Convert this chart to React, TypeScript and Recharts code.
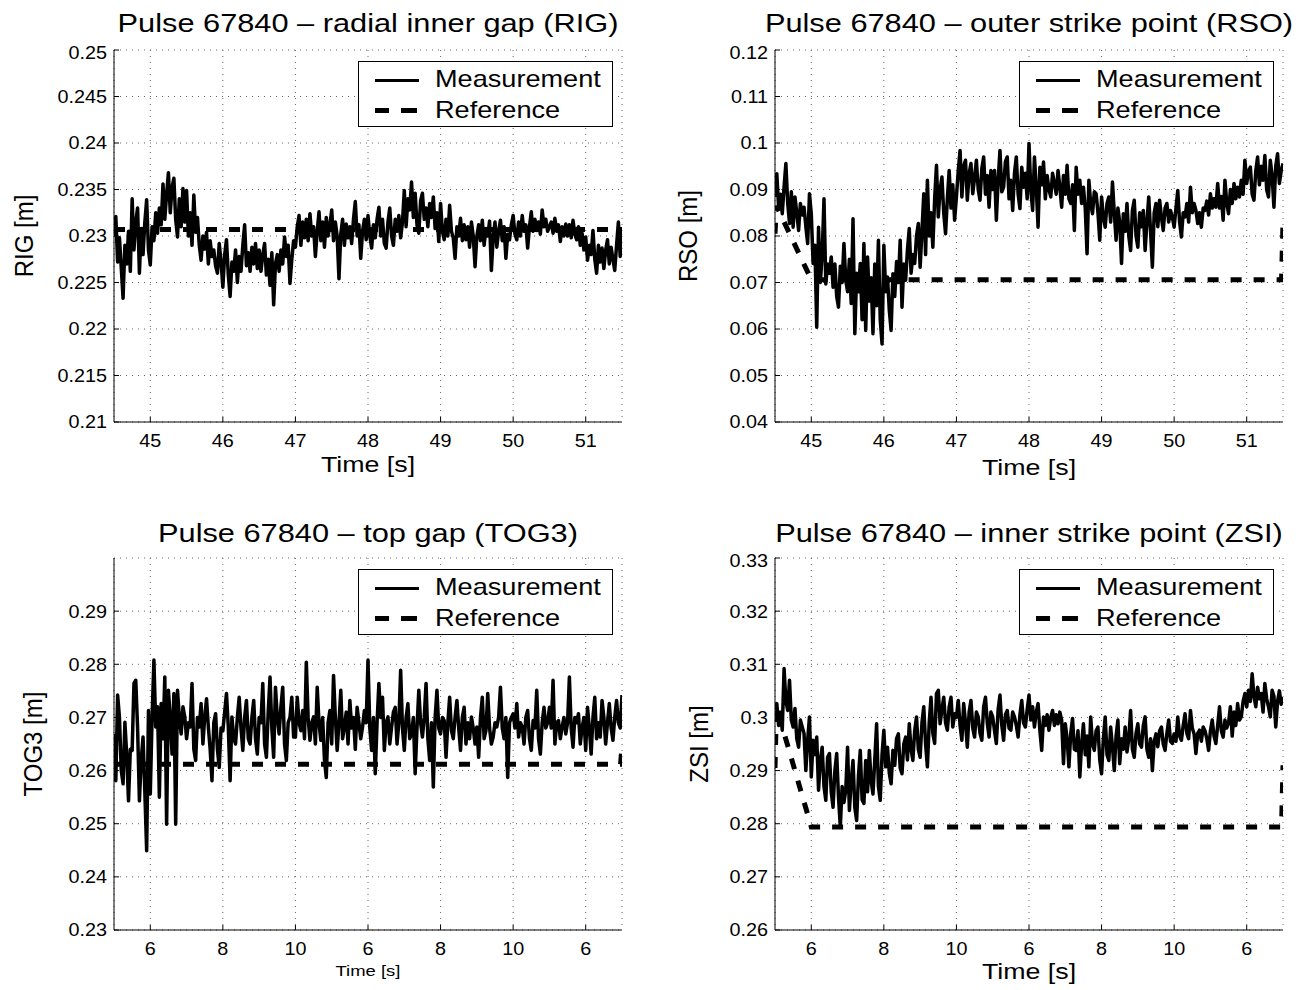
import React from 'react';
import { LineChart, Line, XAxis, YAxis, CartesianGrid } from 'recharts';

const FONT = '"Liberation Sans", Arial, Helvetica, sans-serif';

// ---------- ticks & labels ----------
const TIME_TICKS = [45, 46, 47, 48, 49, 50, 51];
const TOP_XLABELS = ['45', '46', '47', '48', '49', '50', '51'];
const BOTTOM_XLABELS = ['6', '8', '10', '6', '8', '10', '6'];
const RIG_YTICKS = [0.21, 0.215, 0.22, 0.225, 0.23, 0.235, 0.24, 0.245, 0.25];
const RSO_YTICKS = [0.04, 0.05, 0.06, 0.07, 0.08, 0.09, 0.1, 0.11, 0.12];
const TOG3_YTICKS = [0.23, 0.24, 0.25, 0.26, 0.27, 0.28, 0.29];
const ZSI_YTICKS = [0.26, 0.27, 0.28, 0.29, 0.3, 0.31, 0.32, 0.33];

// ---------- sampled measurements: start time, sample step (s), values ----------
const T_START = 44.5;
const T_STEP = 0.025;

const RIG_MEAS = [
  0.2300, 0.2321, 0.2272, 0.2298, 0.2266, 0.2233, 0.2290, 0.2270, 0.2305, 0.2262,
  0.2340, 0.2285, 0.2315, 0.2330, 0.2260, 0.2308, 0.2280, 0.2315, 0.2339, 0.2285,
  0.2269, 0.2310, 0.2295, 0.2325, 0.2303, 0.2330, 0.2312, 0.2356, 0.2318, 0.2345,
  0.2368, 0.2325, 0.2352, 0.2362, 0.2318, 0.2299, 0.2340, 0.2310, 0.2351, 0.2315,
  0.2349, 0.2300, 0.2325, 0.2290, 0.2344, 0.2304, 0.2320, 0.2290, 0.2274, 0.2300,
  0.2286, 0.2304, 0.2270, 0.2295, 0.2278, 0.2285, 0.2268, 0.2260, 0.2292, 0.2272,
  0.2245, 0.2280, 0.2296, 0.2258, 0.2235, 0.2272, 0.2262, 0.2285, 0.2250, 0.2278,
  0.2262, 0.2290, 0.2312, 0.2268, 0.2282, 0.2262, 0.2288, 0.2270, 0.2292, 0.2265,
  0.2285, 0.2262, 0.2280, 0.2292, 0.2258, 0.2275, 0.2247, 0.2282, 0.2226, 0.2270,
  0.2280, 0.2262, 0.2285, 0.2270, 0.2299, 0.2278, 0.2290, 0.2249, 0.2275, 0.2295,
  0.2288, 0.2310, 0.2322, 0.2290, 0.2315, 0.2298, 0.2318, 0.2295, 0.2324, 0.2300,
  0.2310, 0.2278, 0.2305, 0.2326, 0.2295, 0.2315, 0.2288, 0.2320, 0.2300, 0.2312,
  0.2328, 0.2295, 0.2315, 0.2300, 0.2254, 0.2302, 0.2318, 0.2290, 0.2313, 0.2298,
  0.2310, 0.2292, 0.2318, 0.2337, 0.2300, 0.2312, 0.2276, 0.2305, 0.2318, 0.2296,
  0.2322, 0.2300, 0.2287, 0.2312, 0.2298, 0.2318, 0.2331, 0.2300, 0.2318, 0.2292,
  0.2287, 0.2315, 0.2330, 0.2300, 0.2290, 0.2318, 0.2305, 0.2322, 0.2298, 0.2315,
  0.2349, 0.2310, 0.2340, 0.2328, 0.2358, 0.2320, 0.2346, 0.2312, 0.2303, 0.2338,
  0.2346, 0.2318, 0.2330, 0.2310, 0.2335, 0.2320, 0.2342, 0.2308, 0.2325, 0.2294,
  0.2335, 0.2305, 0.2296, 0.2318, 0.2300, 0.2333, 0.2305, 0.2298, 0.2276, 0.2310,
  0.2300, 0.2319, 0.2295, 0.2312, 0.2296, 0.2310, 0.2288, 0.2315, 0.2300, 0.2267,
  0.2300, 0.2312, 0.2295, 0.2317, 0.2290, 0.2308, 0.2300, 0.2316, 0.2263, 0.2298,
  0.2315, 0.2288, 0.2305, 0.2317, 0.2295, 0.2310, 0.2276, 0.2302, 0.2296, 0.2312,
  0.2322, 0.2302, 0.2296, 0.2315, 0.2300, 0.2322, 0.2305, 0.2312, 0.2287, 0.2310,
  0.2326, 0.2305, 0.2318, 0.2306, 0.2315, 0.2302, 0.2328, 0.2310, 0.2318, 0.2305,
  0.2310, 0.2315, 0.2303, 0.2319, 0.2305, 0.2312, 0.2294, 0.2310, 0.2300, 0.2313,
  0.2300, 0.2312, 0.2298, 0.2317, 0.2302, 0.2296, 0.2310, 0.2290, 0.2303, 0.2285,
  0.2299, 0.2274, 0.2290, 0.2280, 0.2306, 0.2275, 0.2260, 0.2290, 0.2272, 0.2287,
  0.2265, 0.2285, 0.2296, 0.2270, 0.2288, 0.2275, 0.2263, 0.2290, 0.2315, 0.2278,
  0.2306,
];
const RIG_REF: [number, number][] = [[44.5, 0.2307], [51.5, 0.2307]];

const RSO_MEAS = [
  0.0884, 0.0934, 0.0860, 0.0890, 0.0848, 0.0905, 0.0956, 0.0870, 0.0827, 0.0895,
  0.0819, 0.0884, 0.0850, 0.0812, 0.0870, 0.0845, 0.0862, 0.0820, 0.0784, 0.0891,
  0.0848, 0.0741, 0.0780, 0.0604, 0.0819, 0.0700, 0.0760, 0.0880, 0.0697, 0.0740,
  0.0720, 0.0755, 0.0690, 0.0740, 0.0670, 0.0647, 0.0735, 0.0700, 0.0784, 0.0705,
  0.0680, 0.0750, 0.0655, 0.0837, 0.0590, 0.0720, 0.0680, 0.0741, 0.0620, 0.0784,
  0.0597, 0.0755, 0.0660, 0.0710, 0.0590, 0.0740, 0.0650, 0.0791, 0.0620, 0.0568,
  0.0780, 0.0680, 0.0712, 0.0640, 0.0597, 0.0719, 0.0670, 0.0745, 0.0700, 0.0791,
  0.0647, 0.0740, 0.0705, 0.0770, 0.0816, 0.0720, 0.0760, 0.0741, 0.0800, 0.0827,
  0.0733, 0.0810, 0.0891, 0.0760, 0.0920, 0.0800, 0.0850, 0.0776, 0.0880, 0.0952,
  0.0841, 0.0900, 0.0927, 0.0850, 0.0805, 0.0880, 0.0941, 0.0860, 0.0910, 0.0834,
  0.0884, 0.0940, 0.0984, 0.0884, 0.0950, 0.0963, 0.0877, 0.0935, 0.0956, 0.0891,
  0.0925, 0.0963, 0.0900, 0.0877, 0.0945, 0.0970, 0.0890, 0.0930, 0.0862, 0.0941,
  0.0900, 0.0941, 0.0834, 0.0920, 0.0984, 0.0895, 0.0905, 0.0960, 0.0970, 0.0880,
  0.0920, 0.0855, 0.0935, 0.0970, 0.0890, 0.0859, 0.0948, 0.0905, 0.0935, 0.0880,
  0.0999, 0.0900, 0.0855, 0.0970, 0.0905, 0.0819, 0.0948, 0.0910, 0.0959, 0.0880,
  0.0930, 0.0900, 0.0884, 0.0935, 0.0913, 0.0890, 0.0941, 0.0905, 0.0862, 0.0930,
  0.0890, 0.0952, 0.0880, 0.0870, 0.0910, 0.0812, 0.0948, 0.0890, 0.0920, 0.0870,
  0.0905, 0.0860, 0.0762, 0.0920, 0.0870, 0.0848, 0.0895, 0.0891, 0.0850, 0.0791,
  0.0884, 0.0840, 0.0819, 0.0870, 0.0884, 0.0830, 0.0916, 0.0850, 0.0791, 0.0860,
  0.0830, 0.0741, 0.0848, 0.0810, 0.0870, 0.0800, 0.0769, 0.0855, 0.0877, 0.0800,
  0.0776, 0.0850, 0.0820, 0.0855, 0.0769, 0.0830, 0.0884, 0.0810, 0.0733, 0.0850,
  0.0870, 0.0820, 0.0877, 0.0840, 0.0812, 0.0860, 0.0870, 0.0830, 0.0855, 0.0841,
  0.0819, 0.0860, 0.0898, 0.0830, 0.0798, 0.0850, 0.0841, 0.0870, 0.0830, 0.0905,
  0.0850, 0.0870, 0.0855, 0.0827, 0.0850, 0.0819, 0.0860, 0.0855, 0.0875, 0.0845,
  0.0891, 0.0860, 0.0880, 0.0862, 0.0913, 0.0860, 0.0885, 0.0834, 0.0920, 0.0870,
  0.0848, 0.0900, 0.0870, 0.0913, 0.0880, 0.0905, 0.0884, 0.0920, 0.0890, 0.0963,
  0.0913, 0.0940, 0.0948, 0.0890, 0.0877, 0.0940, 0.0970, 0.0910, 0.0950, 0.0920,
  0.0973, 0.0900, 0.0884, 0.0963, 0.0930, 0.0862, 0.0950, 0.0977, 0.0913, 0.0940,
  0.0956,
];
const RSO_REF: [number, number][] = [[44.5, 0.0805], [44.52, 0.0865], [45.0, 0.0706], [51.48, 0.0706], [51.5, 0.0830]];

const TOG3_MEAS = [
  0.2669, 0.2581, 0.2742, 0.2700, 0.2600, 0.2575, 0.2691, 0.2630, 0.2543, 0.2640,
  0.2638, 0.2764, 0.2770, 0.2680, 0.2543, 0.2620, 0.2663, 0.2560, 0.2449, 0.2713,
  0.2556, 0.2700, 0.2808, 0.2682, 0.2720, 0.2550, 0.2726, 0.2660, 0.2776, 0.2499,
  0.2751, 0.2700, 0.2631, 0.2745, 0.2499, 0.2751, 0.2700, 0.2669, 0.2720, 0.2701,
  0.2660, 0.2690, 0.2682, 0.2764, 0.2640, 0.2619, 0.2700, 0.2682, 0.2726, 0.2650,
  0.2700, 0.2735, 0.2682, 0.2640, 0.2581, 0.2690, 0.2707, 0.2640, 0.2606, 0.2680,
  0.2675, 0.2710, 0.2745, 0.2682, 0.2581, 0.2701, 0.2660, 0.2650, 0.2700, 0.2738,
  0.2680, 0.2638, 0.2700, 0.2732, 0.2660, 0.2650, 0.2700, 0.2732, 0.2660, 0.2631,
  0.2700, 0.2690, 0.2764, 0.2650, 0.2625, 0.2710, 0.2776, 0.2680, 0.2625, 0.2757,
  0.2700, 0.2669, 0.2720, 0.2757, 0.2650, 0.2619, 0.2690, 0.2700, 0.2738, 0.2663,
  0.2663, 0.2738, 0.2690, 0.2675, 0.2713, 0.2660, 0.2804, 0.2700, 0.2657, 0.2690,
  0.2701, 0.2650, 0.2757, 0.2690, 0.2657, 0.2700, 0.2620, 0.2587, 0.2690, 0.2713,
  0.2650, 0.2779, 0.2700, 0.2638, 0.2690, 0.2751, 0.2660, 0.2682, 0.2710, 0.2650,
  0.2732, 0.2680, 0.2700, 0.2640, 0.2719, 0.2690, 0.2660, 0.2682, 0.2713, 0.2690,
  0.2808, 0.2680, 0.2638, 0.2700, 0.2594, 0.2690, 0.2764, 0.2700, 0.2738, 0.2638,
  0.2690, 0.2701, 0.2650, 0.2682, 0.2710, 0.2719, 0.2650, 0.2690, 0.2789, 0.2680,
  0.2638, 0.2700, 0.2726, 0.2660, 0.2669, 0.2700, 0.2594, 0.2680, 0.2751, 0.2690,
  0.2663, 0.2700, 0.2764, 0.2660, 0.2619, 0.2690, 0.2569, 0.2700, 0.2751, 0.2680,
  0.2669, 0.2700, 0.2694, 0.2625, 0.2690, 0.2738, 0.2675, 0.2660, 0.2700, 0.2732,
  0.2680, 0.2638, 0.2700, 0.2719, 0.2650, 0.2690, 0.2660, 0.2701, 0.2680, 0.2650,
  0.2682, 0.2625, 0.2700, 0.2738, 0.2660, 0.2675, 0.2745, 0.2680, 0.2650, 0.2663,
  0.2690, 0.2682, 0.2700, 0.2757, 0.2680, 0.2660, 0.2700, 0.2587, 0.2690, 0.2700,
  0.2707, 0.2680, 0.2726, 0.2663, 0.2690, 0.2682, 0.2650, 0.2700, 0.2713, 0.2660,
  0.2638, 0.2694, 0.2680, 0.2751, 0.2660, 0.2631, 0.2690, 0.2719, 0.2680, 0.2690,
  0.2719, 0.2680, 0.2770, 0.2650, 0.2690, 0.2694, 0.2660, 0.2682, 0.2700, 0.2669,
  0.2690, 0.2776, 0.2680, 0.2644, 0.2700, 0.2690, 0.2707, 0.2650, 0.2680, 0.2700,
  0.2638, 0.2719, 0.2680, 0.2631, 0.2700, 0.2738, 0.2660, 0.2690, 0.2663, 0.2732,
  0.2700, 0.2650, 0.2690, 0.2726, 0.2680, 0.2657, 0.2700, 0.2732, 0.2690, 0.2680,
  0.2742,
];
const TOG3_REF: [number, number][] = [[44.5, 0.2612], [51.48, 0.2612], [51.5, 0.2645]];

const ZSI_MEAS = [
  0.3013, 0.3026, 0.2985, 0.3010, 0.2976, 0.3092, 0.3030, 0.3013, 0.3070, 0.2995,
  0.2982, 0.3017, 0.2960, 0.2944, 0.2995, 0.2982, 0.2970, 0.2900, 0.2957, 0.3001,
  0.2888, 0.2957, 0.2930, 0.2963, 0.2863, 0.2920, 0.2944, 0.2870, 0.2844, 0.2925,
  0.2932, 0.2860, 0.2831, 0.2900, 0.2932, 0.2850, 0.2794, 0.2870, 0.2840, 0.2863,
  0.2944, 0.2825, 0.2880, 0.2919, 0.2830, 0.2806, 0.2890, 0.2938, 0.2845, 0.2838,
  0.2919, 0.2860, 0.2938, 0.2880, 0.2856, 0.2920, 0.2988, 0.2870, 0.2844, 0.2930,
  0.2976, 0.2907, 0.2944, 0.2895, 0.2875, 0.2938, 0.2910, 0.2960, 0.2969, 0.2905,
  0.2894, 0.2950, 0.2963, 0.2920, 0.2988, 0.2940, 0.2919, 0.2975, 0.3001, 0.2940,
  0.2925, 0.2990, 0.3020, 0.2950, 0.2907, 0.2990, 0.3038, 0.2970, 0.2951, 0.3045,
  0.3051, 0.2988, 0.3015, 0.3038, 0.2990, 0.2976, 0.3020, 0.3038, 0.2982, 0.3007,
  0.3000, 0.3032, 0.2985, 0.2957, 0.3026, 0.2990, 0.2944, 0.3010, 0.3032, 0.2980,
  0.2963, 0.3010, 0.3001, 0.2970, 0.2957, 0.3020, 0.3038, 0.2990, 0.2963, 0.3010,
  0.3001, 0.2975, 0.2951, 0.3015, 0.3042, 0.2985, 0.2957, 0.3005, 0.3013, 0.2980,
  0.2976, 0.3010, 0.3001, 0.2985, 0.2963, 0.3005, 0.3032, 0.2990, 0.2982, 0.3015,
  0.3042, 0.2995, 0.3020, 0.2982, 0.3010, 0.3026, 0.2975, 0.2938, 0.3001, 0.2985,
  0.3005, 0.2976, 0.3000, 0.3013, 0.2985, 0.3005, 0.2988, 0.3010, 0.2995, 0.2913,
  0.2988, 0.2960, 0.2907, 0.2970, 0.2998, 0.2940, 0.2938, 0.2975, 0.2888, 0.2950,
  0.2988, 0.2930, 0.2965, 0.2907, 0.3001, 0.2950, 0.2938, 0.2975, 0.2982, 0.2920,
  0.2894, 0.2960, 0.3001, 0.2930, 0.2919, 0.2982, 0.2945, 0.2900, 0.2965, 0.2995,
  0.2913, 0.2960, 0.2940, 0.2982, 0.2935, 0.2960, 0.3013, 0.2940, 0.2925, 0.2970,
  0.2988, 0.2950, 0.2944, 0.2985, 0.3001, 0.2940, 0.2925, 0.2960, 0.2900, 0.2955,
  0.2969, 0.2945, 0.2975, 0.2982, 0.2950, 0.2938, 0.2970, 0.2995, 0.2955, 0.2951,
  0.2969, 0.2955, 0.3001, 0.2965, 0.2957, 0.2985, 0.3007, 0.2970, 0.2960, 0.3013,
  0.2980, 0.2969, 0.2932, 0.2970, 0.2976, 0.2955, 0.2982, 0.2975, 0.2960, 0.2938,
  0.2975, 0.2995, 0.2965, 0.2951, 0.2985, 0.3020, 0.2975, 0.2963, 0.2995, 0.2980,
  0.2990, 0.3020, 0.2965, 0.3010, 0.2985, 0.3026, 0.2995, 0.3001, 0.3030, 0.3045,
  0.3020, 0.3051, 0.3030, 0.3082, 0.3040, 0.3020, 0.3057, 0.3035, 0.3045, 0.3010,
  0.3064, 0.3035, 0.3020, 0.3001, 0.3051, 0.3040, 0.2982, 0.3030, 0.3050, 0.3025,
  0.3038,
];
const ZSI_REF: [number, number][] = [[44.5, 0.2905], [44.52, 0.3020], [45.0, 0.2794], [51.48, 0.2794], [51.5, 0.2910]];

// ---------- geometry ----------
const PW = 508;
const PH = 372;
const ML = 72;
const MT = 6;
const MR = 6;
const MB = 40;

const TICK_FS = 18;
const TICK_SX = 1.1;

function XTick(props: any) {
  const { x, y, payload, labels } = props;
  const idx = TIME_TICKS.indexOf(payload.value);
  const label = idx >= 0 ? labels[idx] : String(payload.value);
  return (
    <text
      transform={`translate(${x},${y}) scale(${TICK_SX},1)`}
      x={0}
      y={0}
      dy="0.71em"
      textAnchor="middle"
      fontSize={TICK_FS}
      fontFamily={FONT}
      fill="#000"
    >
      {label}
    </text>
  );
}

function YTick(props: any) {
  const { x, y, payload } = props;
  return (
    <text
      transform={`translate(${x},${y}) scale(${TICK_SX},1)`}
      x={0}
      y={0}
      dy="0.355em"
      textAnchor="end"
      fontSize={TICK_FS}
      fontFamily={FONT}
      fill="#000"
    >
      {String(payload.value)}
    </text>
  );
}

type PanelProps = {
  plotX: number;
  plotY: number;
  title: string;
  titleBaseline: number;
  yLabel: string;
  yLabelCx: number;
  xLabel: string;
  xLabelSize: number;
  xLabelBaseline: number;
  meas: number[];
  refLine: [number, number][];
  yDomain: [number, number];
  yTicks: number[];
  xLabels: string[];
};

function Legend2({ left, top }: { left: number; top: number }) {
  const textStyle: React.CSSProperties = {
    position: 'absolute',
    left: 75.5,
    fontSize: 24,
    lineHeight: '24px',
    whiteSpace: 'nowrap',
    transform: 'scaleX(1.13)',
    transformOrigin: '0 50%',
  };
  return (
    <div
      style={{
        position: 'absolute',
        left,
        top,
        width: 255,
        height: 66,
        boxSizing: 'border-box',
        border: '1.5px solid #000',
        background: '#fff',
        fontFamily: FONT,
      }}
    >
      <div style={{ position: 'absolute', left: 16, top: 16.5, width: 44, height: 3, background: '#000' }} />
      <div style={{ position: 'absolute', left: 16, top: 45.5, width: 14, height: 5, background: '#000' }} />
      <div style={{ position: 'absolute', left: 42, top: 45.5, width: 16, height: 5, background: '#000' }} />
      <div style={{ ...textStyle, top: 25.5 - 0.8465 * 24 }}>Measurement</div>
      <div style={{ ...textStyle, top: 56.3 - 0.8465 * 24 }}>Reference</div>
    </div>
  );
}

function Panel(p: PanelProps) {
  const measData = p.meas.map((v, i) => ({ t: T_START + i * T_STEP, v }));
  const refData = p.refLine.map(([t, v]) => ({ t, v }));
  const cx = p.plotX + PW / 2;
  const cy = p.plotY + PH / 2;
  const TFS = 25;
  const noTick = () => <g />;
  return (
    <>
      <div
        style={{
          position: 'absolute',
          left: cx - 400,
          width: 800,
          top: p.titleBaseline - 0.8465 * TFS,
          fontSize: TFS,
          lineHeight: `${TFS}px`,
          textAlign: 'center',
          whiteSpace: 'nowrap',
          transform: 'scaleX(1.23)',
          fontFamily: FONT,
          color: '#000',
        }}
      >
        {p.title}
      </div>
      <div style={{ position: 'absolute', left: p.plotX - ML, top: p.plotY - MT }}>
        <LineChart
          width={PW + ML + MR}
          height={PH + MT + MB}
          margin={{ top: MT, right: MR, bottom: 0, left: 0 }}
        >
          <CartesianGrid stroke="#666" strokeWidth={1} strokeDasharray="1 5" />
          <XAxis
            dataKey="t"
            type="number"
            domain={[44.5, 51.5]}
            ticks={TIME_TICKS}
            allowDataOverflow
            height={MB}
            tickSize={-5}
            tickMargin={17.5}
            tick={<XTick labels={p.xLabels} />}
            axisLine={{ stroke: '#000', strokeWidth: 1 }}
            tickLine={{ stroke: '#000', strokeWidth: 1 }}
          />
          <XAxis
            xAxisId="top"
            orientation="top"
            dataKey="t"
            type="number"
            domain={[44.5, 51.5]}
            ticks={TIME_TICKS}
            allowDataOverflow
            height={0}
            tickSize={-5}
            tick={noTick}
            axisLine={{ stroke: '#000', strokeWidth: 1 }}
            tickLine={{ stroke: '#000', strokeWidth: 1 }}
          />
          <YAxis
            type="number"
            domain={p.yDomain}
            ticks={p.yTicks}
            allowDataOverflow
            width={ML}
            tickSize={-5}
            tickMargin={12}
            tick={<YTick />}
            axisLine={{ stroke: '#000', strokeWidth: 1 }}
            tickLine={{ stroke: '#000', strokeWidth: 1 }}
          />
          <YAxis
            yAxisId="right"
            orientation="right"
            type="number"
            domain={p.yDomain}
            ticks={p.yTicks}
            allowDataOverflow
            width={0}
            tickSize={-5}
            tick={noTick}
            axisLine={{ stroke: '#000', strokeWidth: 1 }}
            tickLine={{ stroke: '#000', strokeWidth: 1 }}
          />
          <Line
            data={measData}
            dataKey="v"
            type="linear"
            stroke="#000"
            strokeWidth={3.5}
            strokeLinejoin="round"
            dot={false}
            activeDot={false}
            isAnimationActive={false}
          />
          <Line
            data={refData}
            dataKey="v"
            type="linear"
            stroke="#000"
            strokeWidth={5}
            strokeDasharray="11 12"
            dot={false}
            activeDot={false}
            isAnimationActive={false}
          />
        </LineChart>
      </div>
      <Legend2 left={p.plotX + PW - 9 - 255} top={p.plotY + 11} />
      <div
        style={{
          position: 'absolute',
          left: cx - 200,
          width: 400,
          top: p.xLabelBaseline - 0.8465 * p.xLabelSize,
          fontSize: p.xLabelSize,
          lineHeight: `${p.xLabelSize}px`,
          textAlign: 'center',
          whiteSpace: 'nowrap',
          transform: 'scaleX(1.19)',
          fontFamily: FONT,
          color: '#000',
        }}
      >
        {p.xLabel}
      </div>
      <div
        style={{
          position: 'absolute',
          left: p.yLabelCx - 100,
          top: cy - 12,
          width: 200,
          height: 24,
          fontSize: 24,
          lineHeight: '24px',
          textAlign: 'center',
          whiteSpace: 'nowrap',
          transform: 'rotate(-90deg) scale(1, 1.1)',
          fontFamily: FONT,
          color: '#000',
        }}
      >
        {p.yLabel}
      </div>
    </>
  );
}

export default function App() {
  return (
    <div
      style={{
        position: 'absolute',
        left: 0,
        top: 0,
        width: 1307,
        height: 990,
        background: '#fff',
        overflow: 'hidden',
        fontFamily: FONT,
      }}
    >
      <Panel
        plotX={114.4}
        plotY={50}
        title="Pulse 67840 – radial inner gap (RIG)"
        titleBaseline={32.3}
        yLabel="RIG [m]"
        yLabelCx={23.7}
        xLabel="Time [s]"
        xLabelSize={22.5}
        xLabelBaseline={473.5}
        meas={RIG_MEAS}
        refLine={RIG_REF}
        yDomain={[0.21, 0.25]}
        yTicks={RIG_YTICKS}
        xLabels={TOP_XLABELS}
      />
      <Panel
        plotX={775}
        plotY={50}
        title="Pulse 67840 – outer strike point (RSO)"
        titleBaseline={32.3}
        yLabel="RSO [m]"
        yLabelCx={687.7}
        xLabel="Time [s]"
        xLabelSize={22.5}
        xLabelBaseline={476}
        meas={RSO_MEAS}
        refLine={RSO_REF}
        yDomain={[0.04, 0.12]}
        yTicks={RSO_YTICKS}
        xLabels={TOP_XLABELS}
      />
      <Panel
        plotX={114.4}
        plotY={558}
        title="Pulse 67840 – top gap (TOG3)"
        titleBaseline={541.7}
        yLabel="TOG3 [m]"
        yLabelCx={33}
        xLabel="Time [s]"
        xLabelSize={15.5}
        xLabelBaseline={976}
        meas={TOG3_MEAS}
        refLine={TOG3_REF}
        yDomain={[0.23, 0.3]}
        yTicks={TOG3_YTICKS}
        xLabels={BOTTOM_XLABELS}
      />
      <Panel
        plotX={775}
        plotY={558}
        title="Pulse 67840 – inner strike point (ZSI)"
        titleBaseline={542.3}
        yLabel="ZSI [m]"
        yLabelCx={698.7}
        xLabel="Time [s]"
        xLabelSize={22.5}
        xLabelBaseline={980}
        meas={ZSI_MEAS}
        refLine={ZSI_REF}
        yDomain={[0.26, 0.33]}
        yTicks={ZSI_YTICKS}
        xLabels={BOTTOM_XLABELS}
      />
    </div>
  );
}
